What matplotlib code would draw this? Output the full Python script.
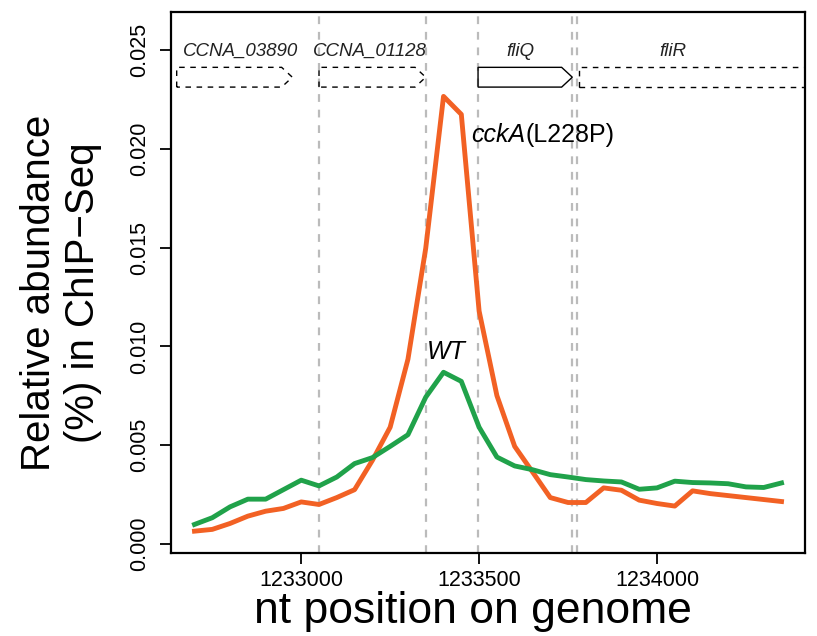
import matplotlib
matplotlib.use("Agg")
import matplotlib.pyplot as plt
from matplotlib.patches import Polygon

plt.rcParams['font.family'] = ['Liberation Sans', 'DejaVu Sans']

# ---- data ----
positions = [1232700 + 50 * i for i in range(34)]
cckA_L228P = [0.00065, 0.00074, 0.00104, 0.00141, 0.00166, 0.00180, 0.00213, 0.00200,
              0.00235, 0.00275, 0.00423, 0.00591, 0.00935, 0.01497, 0.02265, 0.02174,
              0.01179, 0.00751, 0.00494, 0.00365, 0.00235, 0.00210, 0.00210, 0.00284,
              0.00272, 0.00222, 0.00205, 0.00192, 0.00269, 0.00255, 0.00245, 0.00235,
              0.00225, 0.00215]
wt = [0.00099, 0.00133, 0.00188, 0.00227, 0.00227, 0.00275, 0.00323, 0.00294,
      0.00339, 0.00407, 0.00437, 0.00494, 0.00553, 0.00743, 0.00869, 0.00823,
      0.00591, 0.00440, 0.00395, 0.00376, 0.00351, 0.00339, 0.00326, 0.00319,
      0.00314, 0.00277, 0.00284, 0.00318, 0.00311, 0.00309, 0.00305, 0.00289,
      0.00286, 0.00309]

boundaries = [1233050, 1233350, 1233497, 1233762, 1233774]

gene_names = ['CCNA_03890', 'CCNA_01128', 'fliQ', 'fliR']
gene_starts = [1232650, 1233050, 1233497, 1233780]
gene_ends = [1232975, 1233350, 1233762, 1234600]
gene_label_x = [1232829, 1233193, 1233615, 1234045]
gene_dashed = [True, True, False, True]

x_ticks = [1233000, 1233500, 1234000]
y_ticks = [0.000, 0.005, 0.010, 0.015, 0.020, 0.025]

orange = '#F26124'
green = '#20A24A'

fig = plt.figure(figsize=(8.17, 6.36), dpi=100)
ax = fig.add_axes([171 / 817, 1 - 553.3 / 636, (805 - 171) / 817, (553.3 - 12) / 636])

ax.set_xlim(1232634, 1234416)
ax.set_ylim(-0.00047, 0.02692)

for b in boundaries:
    ax.axvline(b, color='#BBBBBB', lw=1.6, dashes=(3.5, 3.5), zorder=1)

# gene arrows
y_top, y_bot = 0.02412, 0.02312
y_mid = (y_top + y_bot) / 2
head = 30
for name, s, e, lx, dsh in zip(gene_names, gene_starts, gene_ends, gene_label_x, gene_dashed):
    pts = [(s, y_bot), (s, y_top), (e - head, y_top), (e, y_mid), (e - head, y_bot)]
    poly = Polygon(pts, closed=True, fill=False, edgecolor='black', lw=1.0,
                   linestyle=(0, (4, 4)) if dsh else '-', zorder=3, clip_on=True)
    ax.add_patch(poly)
    ax.text(lx, 0.02492, name, ha='center', va='center', fontsize=13.5,
            style='italic', color='#222222', zorder=4)

ax.plot(positions, cckA_L228P, color=orange, lw=3.5, zorder=5)
ax.plot(positions, wt, color=green, lw=3.5, zorder=6)

t1 = ax.text(1233479, 0.0207, 'cckA', ha='left', va='center', fontsize=18,
             style='italic', zorder=7)
ax.annotate('(L228P)', xycoords=t1, xy=(1, 0.5), va='center', ha='left', fontsize=18, zorder=7)

ax.text(1233407, 0.00974, 'WT', ha='center', va='center', fontsize=18, style='italic', zorder=7)

ax.set_xticks(x_ticks)
ax.set_xticklabels([str(v) for v in x_ticks])
ax.set_yticks(y_ticks)
ax.set_yticklabels(['%.3f' % v for v in y_ticks], rotation=90, va='center')
ax.tick_params(axis='both', direction='out', length=8, width=1.3, labelsize=15.5, color='black')
ax.tick_params(axis='y', pad=7)
ax.tick_params(axis='x', pad=4)
for sp in ax.spines.values():
    sp.set_linewidth(1.6)

ax.set_xlabel('nt position on genome', fontsize=32)
ax.xaxis.set_label_coords((473 - 171) / 634, -0.07, transform=ax.transAxes)
ax.xaxis.label.set_va('top')
ax.set_ylabel('Relative abundance\n(%) in ChIP\u2212Seq', fontsize=29, linespacing=1.17)
ax.yaxis.set_label_coords(-(171 - 61) / 634, (553.3 - 293) / 541.3, transform=ax.transAxes)
ax.yaxis.label.set_va('center')

fig.savefig('out.png', dpi=100)
